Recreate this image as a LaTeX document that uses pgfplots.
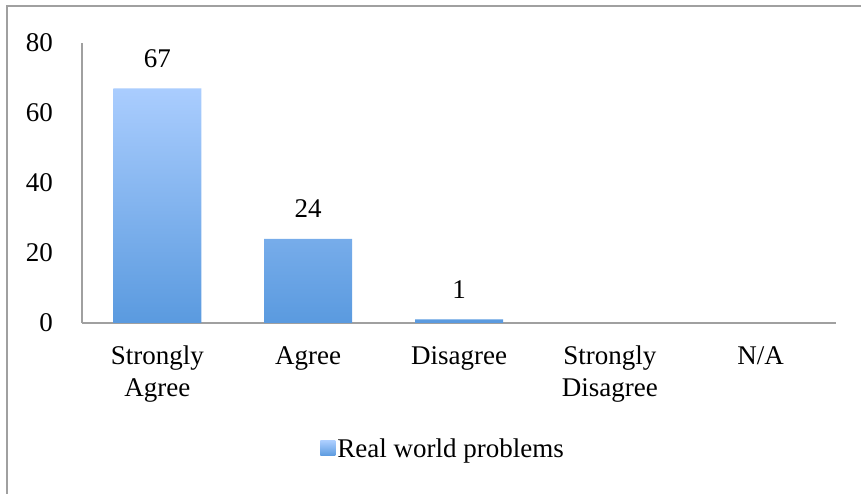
\documentclass[border=0pt]{standalone}
\usepackage{pgfplots}
\pgfplotsset{compat=1.18}
\usepackage{fontspec}
\setmainfont{Liberation Serif}
\definecolor{bartop}{HTML}{AACDFE}
\definecolor{barbot}{HTML}{5A9ADF}
\definecolor{framegray}{HTML}{A0A0A0}
\begin{document}
\begin{tikzpicture}[x=1pt,y=1pt]
\useasboundingbox (0,0) rectangle (861,494);
\draw[framegray, line width=2pt] (7,-2) -- (7,488) -- (870,488);
\begin{axis}[
  at={(82pt,171pt)}, anchor=south west,
  scale only axis, width=754pt, height=280pt,
  font=\fontsize{27}{32}\selectfont,
  xmin=-0.5, xmax=4.5, ymin=0, ymax=80,
  axis x line*=bottom, axis y line*=left,
  axis line style={framegray, line width=1.5pt, -},
  major tick length=0pt,
  ytick={0,20,40,60,80},
  xtick={0,1,2,3,4},
  xticklabels={Strongly\\Agree, Agree, Disagree, Strongly\\Disagree, N/A},
  xticklabel style={align=center, anchor=north, inner sep=0pt, yshift=-23pt},
  yticklabel style={anchor=east, inner sep=0pt, xshift=-29pt},
  /pgf/number format/assume math mode=true,
  ybar, bar width=88pt,
  nodes near coords,
  nodes near coords style={anchor=south, inner sep=0pt, yshift=21pt},
  legend style={draw=none, at={(0.479,-0.45)}, anchor=center, font=\fontsize{27}{32}\selectfont},
  legend image code/.code={\shade[top color=bartop, bottom color=barbot, draw=none] (0pt,-7pt) rectangle (15pt,8pt);},
  clip=false,
]
\addplot[draw=none, top color=bartop, bottom color=barbot] coordinates {(0,67) (1,24) (2,1)};
\addlegendentry{Real world problems}
\end{axis}
\end{tikzpicture}
\end{document}
